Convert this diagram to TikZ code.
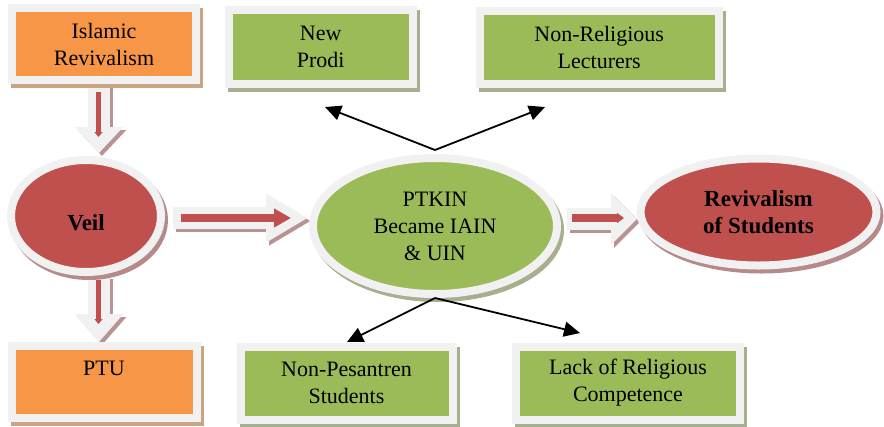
\documentclass[tikz,border=0pt]{standalone}
\usepackage{fontspec}
\setmainfont{Liberation Serif}
\usetikzlibrary{shapes.geometric,arrows.meta,calc}
\definecolor{orng}{HTML}{F79646}
\definecolor{grn}{HTML}{9BBB59}
\definecolor{rd}{HTML}{C0504D}
\definecolor{frm}{HTML}{F1F1F1}
\definecolor{shO}{HTML}{C9A583}
\definecolor{shG}{HTML}{A7B08E}
\definecolor{shR}{HTML}{B58A8A}
\definecolor{shA}{HTML}{B89393}
\tikzset{
  x=1pt, y=-1pt,
  every node/.style={font=\fontsize{22}{27}\selectfont, align=center, inner sep=0pt},
  shad/.style={preaction={draw=#1, fill=#1, transform canvas={xshift=3pt,yshift=-4pt}}},
  obox/.style={rectangle, draw=frm, line width=8pt, fill=orng, shad=shO},
  gbox/.style={rectangle, draw=frm, line width=8pt, fill=grn, shad=shG},
  rell/.style={ellipse, draw=frm, line width=8pt, fill=rd, shad=shR, font=\fontsize{23}{27}\selectfont\bfseries},
  gell/.style={ellipse, draw=frm, line width=8pt, fill=grn, shad=shG},
  blkbody/.style={draw=frm, line width=22pt},
  blkshd/.style={draw=shA, line width=22pt},
  redline/.style={draw=rd, line width=#1},
  blackarr/.style={draw=black, line width=1.8pt, -{Triangle[length=16pt,width=15pt]}}
}
\begin{document}
\begin{tikzpicture}
\useasboundingbox (0,0) rectangle (884,426);

% ---------- block arrows (behind nodes) ----------
\coordinate (a1s) at (99,82);  \coordinate (a1e) at (99,153);
\coordinate (a2s) at (99,276); \coordinate (a2e) at (99,342);
\coordinate (a3s) at (173,218); \coordinate (a3e) at (308,218);
\coordinate (a4s) at (567,219); \coordinate (a4e) at (637,219);

\draw[blkshd, -{Triangle[length=26pt,width=47pt]}] ([shift={(3,3)}]a1s) -- ([shift={(3,3)}]a1e);
\draw[blkbody, -{Triangle[length=26pt,width=47pt]}] (a1s) -- (a1e);
\draw[blkshd, -{Triangle[length=28pt,width=47pt]}] ([shift={(3,3)}]a2s) -- ([shift={(3,3)}]a2e);
\draw[blkbody, -{Triangle[length=28pt,width=47pt]}] (a2s) -- (a2e);
\draw[blkshd, -{Triangle[length=42pt,width=46pt]}] ([shift={(3,3)}]a3s) -- ([shift={(3,3)}]a3e);
\draw[blkbody, -{Triangle[length=42pt,width=46pt]}] (a3s) -- (a3e);
\draw[blkshd, -{Triangle[length=26pt,width=50pt]}] ([shift={(3,3)}]a4s) -- ([shift={(3,3)}]a4e);
\draw[blkbody, -{Triangle[length=26pt,width=50pt]}] (a4s) -- (a4e);

\coordinate (r1s) at (98.5,92);  \coordinate (r1e) at (98.5,137);
\coordinate (r2s) at (98.5,280); \coordinate (r2e) at (98.5,324);
\coordinate (r3s) at (181,218);  \coordinate (r3e) at (291,218);
\coordinate (r4s) at (572,218);  \coordinate (r4e) at (624,218);
\draw[redline=4.5pt, -{Triangle[length=5pt,width=8pt]}] (r1s) -- (r1e);
\draw[redline=4.5pt, -{Triangle[length=5pt,width=8pt]}] (r2s) -- (r2e);
\draw[redline=8pt, -{Triangle[length=17pt,width=18pt]}] (r3s) -- (r3e);
\draw[redline=8pt, -{Triangle[length=7pt,width=10pt]}] (r4s) -- (r4e);

% ---------- nodes ----------
\node[obox, minimum width=184.5pt, minimum height=72.5pt] (isl) at (104,44) {Islamic\\Revivalism};
\node[obox, minimum width=185pt, minimum height=72.5pt] (ptu) at (104,382) {PTU\\\mbox{}};
\node[gbox, minimum width=184.5pt, minimum height=73.5pt] (np) at (320.75,46.75) {New\\Prodi};
\node[gbox, minimum width=238.5pt, minimum height=73pt] (nrl) at (599.25,47.5) {Non-Religious\\Lecturers};
\node[gbox, minimum width=212pt, minimum height=73pt] (nps) at (346.5,383) {Non-Pesantren\\Students};
\node[gbox, minimum width=224pt, minimum height=73pt] (lrc) at (628,383) {Lack of Religious\\Competence};

\node[rell, minimum width=150pt, minimum height=112pt] (veil) at (86,216) {\raisebox{-7pt}[\height][\depth]{Veil}};
\node[gell, minimum width=244pt, minimum height=136pt] (ptk) at (435,226) {PTKIN\\Became IAIN\\\&~UIN};
\node[rell, minimum width=236pt, minimum height=107pt] (rev) at (758.5,212) {Revivalism\\of Students};

% ---------- black arrows ----------
\coordinate (t1) at (325,107);
\coordinate (t2) at (545,107);
\coordinate (t3) at (347,342);
\coordinate (t4) at (580,333);
\draw[blackarr] ([yshift=4pt]ptk.north) -- (t1);
\draw[blackarr] ([yshift=4pt]ptk.north) -- (t2);
\draw[blackarr] (ptk.south) -- (t3);
\draw[blackarr] (ptk.south) -- (t4);
\end{tikzpicture}
\end{document}
